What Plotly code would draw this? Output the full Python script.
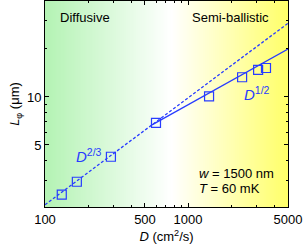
import plotly.graph_objects as go

# Data
D_vals = [131, 167, 289, 597, 1403, 2388, 3090, 3508]
L_vals = [2.44, 2.94, 4.22, 6.88, 10.1, 13.3, 14.8, 15.2]

# Fit lines (endpoints)
dash_D = [100, 5000]
dash_L = [2.11, 29.0]
solid_D = [560, 5000]
solid_L = [6.69, 20.0]

x_ticks = [100, 500, 1000, 5000]
y_ticks = [5, 10]

blue = "rgb(40,60,255)"
font_family = "Liberation Sans, Arial, sans-serif"

fig = go.Figure()

fig.add_trace(go.Scatter(x=dash_D, y=dash_L, mode="lines",
                         line=dict(color=blue, width=1.3, dash="3px,2px"),
                         hoverinfo="skip", showlegend=False))
fig.add_trace(go.Scatter(x=solid_D, y=solid_L, mode="lines",
                         line=dict(color=blue, width=1.3),
                         hoverinfo="skip", showlegend=False))
fig.add_trace(go.Scatter(x=D_vals, y=L_vals, mode="markers",
                         marker=dict(symbol="square-open", size=9,
                                     color=blue, line=dict(width=1.2, color=blue)),
                         showlegend=False))

# background gradient: green -> white -> yellow
def lerp(c1, c2, t):
    return tuple(round(a + (b - a) * t) for a, b in zip(c1, c2))

green = (180, 243, 180)
white = (255, 255, 255)
yellow = (255, 255, 105)
mid = 0.52
n = 120
shapes = []
for i in range(n):
    t = (i + 0.5) / n
    if t < mid:
        c = lerp(green, white, t / mid)
    else:
        c = lerp(white, yellow, (t - mid) / (1 - mid))
    shapes.append(dict(type="rect", xref="paper", yref="paper",
                       x0=i / n, x1=(i + 1.6) / n if i < n - 1 else 1.0,
                       y0=0, y1=1, layer="below", line=dict(width=0),
                       fillcolor="rgb(%d,%d,%d)" % c))

axis_common = dict(showline=True, linecolor="black", linewidth=1, mirror="ticks",
                   ticks="inside", ticklen=4, tickcolor="black", showgrid=False,
                   zeroline=False, ticklabeloverflow="allow",
                   tickfont=dict(size=13, color="black", family=font_family))

fig.update_xaxes(type="log", range=[2, 3.69897], tickvals=x_ticks,
                 ticktext=[str(v) for v in x_ticks],
                 minor=dict(ticks="inside", ticklen=2,
                            tickvals=[200, 300, 400, 600, 700, 800, 900, 2000, 3000, 4000],
                            tickcolor="black"),
                 title=dict(text="<i>D</i> (cm<sup>2</sup>/s)", standoff=6,
                            font=dict(size=13, color="black", family=font_family)),
                 **axis_common)
fig.update_yaxes(type="log", range=[0.31, 1.602], tickvals=y_ticks,
                 ticktext=[str(v) for v in y_ticks],
                 minor=dict(ticks="inside", ticklen=2,
                            tickvals=[3, 4, 6, 7, 8, 9, 20, 30, 40],
                            tickcolor="black"),
                 title=dict(text="<i>L</i><sub>φ</sub> (μm)", standoff=4,
                            font=dict(size=13, color="black", family=font_family)),
                 **axis_common)

ann_font = dict(size=13, color="black", family=font_family)
annotations = [
    dict(text="Diffusive", x=0.053, y=0.92, xref="paper", yref="paper",
         xanchor="left", yanchor="middle", showarrow=False, font=ann_font),
    dict(text="Semi-ballistic", x=0.93, y=0.92, xref="paper", yref="paper",
         xanchor="right", yanchor="middle", showarrow=False, font=ann_font),
    dict(text="<i>D</i><sup>1/2</sup>", x=0.81, y=0.55, xref="paper", yref="paper",
         xanchor="left", yanchor="middle", showarrow=False,
         font=dict(size=15, color=blue, family=font_family)),
    dict(text="<i>D</i><sup>2/3</sup>", x=0.12, y=0.25, xref="paper", yref="paper",
         xanchor="left", yanchor="middle", showarrow=False,
         font=dict(size=15, color=blue, family=font_family)),
    dict(text="<i>w</i> = 1500 nm", x=0.625, y=0.165, xref="paper", yref="paper",
         xanchor="left", yanchor="middle", showarrow=False, font=ann_font),
    dict(text="<i>T</i> = 60 mK", x=0.625, y=0.092, xref="paper", yref="paper",
         xanchor="left", yanchor="middle", showarrow=False, font=ann_font),
]

fig.update_layout(width=305, height=250,
                  margin=dict(l=45, r=17, t=1, b=43),
                  paper_bgcolor="white", plot_bgcolor="white",
                  shapes=shapes, annotations=annotations,
                  font=dict(family=font_family, size=13, color="black"),
                  showlegend=False)

fig.write_html("out.html",
               config={"displayModeBar": False},
               post_script="document.body.style.margin='0';document.body.style.overflow='hidden';")
